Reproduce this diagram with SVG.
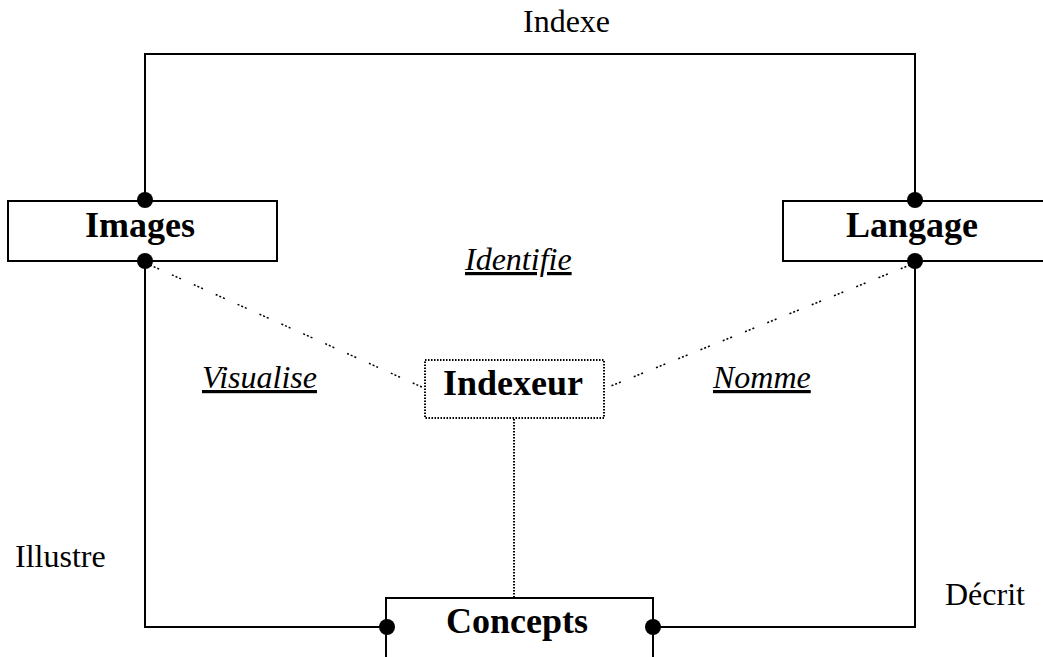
<svg xmlns="http://www.w3.org/2000/svg" width="1043" height="657" viewBox="0 0 1043 657">
<style>
.box{fill:#fff;stroke:#000;stroke-width:2}
.dbox{fill:#fff;stroke:#000;stroke-width:2;stroke-dasharray:1.5 1.5}
.ln{fill:none;stroke:#000;stroke-width:2}
.dl{fill:none;stroke:#000;stroke-width:1.5;stroke-dasharray:2 2 2 2 2 14}
.vl{fill:none;stroke:#000;stroke-width:2;stroke-dasharray:1.5 1.5}
.dot{fill:#000}
.nt{font-family:"Liberation Serif","Times New Roman",serif;font-size:36px;font-weight:bold;text-anchor:middle}
.lb{font-family:"Liberation Serif","Times New Roman",serif;font-size:32px}
.it{font-family:"Liberation Serif","Times New Roman",serif;font-size:32px;font-style:italic;text-decoration:underline}
</style>
<rect width="1043" height="657" fill="#fff"/>
<g id="connectors">
<path class="ln" d="M145 200 V54 H915 V200"/>
<path class="ln" d="M145 261 V627 H387"/>
<path class="ln" d="M915 261 V627 H653"/>
<path class="dl" d="M150 265 L424 388"/>
<path class="dl" d="M910 265 L606 388"/>
<path class="vl" d="M514 419 V597"/>
</g>
<g id="node-images">
<rect class="box" x="8" y="201" width="269" height="60"/>
<text class="nt" x="140" y="237">Images</text>
</g>
<g id="node-langage">
<rect class="box" x="783" y="201" width="270" height="60"/>
<text class="nt" x="912" y="237">Langage</text>
</g>
<g id="node-indexeur">
<rect class="dbox" x="425" y="360" width="179" height="58"/>
<text class="nt" x="513" y="395">Indexeur</text>
</g>
<g id="node-concepts">
<rect class="box" x="386" y="598" width="267" height="70"/>
<text class="nt" x="517" y="633">Concepts</text>
</g>
<g id="dots">
<circle class="dot" cx="145" cy="200" r="8"/>
<circle class="dot" cx="145" cy="261" r="8"/>
<circle class="dot" cx="915" cy="200" r="8"/>
<circle class="dot" cx="915" cy="261" r="8"/>
<circle class="dot" cx="387" cy="627" r="8"/>
<circle class="dot" cx="653" cy="627" r="8"/>
</g>
<g id="labels">
<text class="lb" x="523" y="32">Indexe</text>
<text class="lb" x="15" y="567">Illustre</text>
<text class="lb" x="945" y="605">Décrit</text>
<text class="it" x="465" y="270">Identifie</text>
<text class="it" x="202" y="388">Visualise</text>
<text class="it" x="713" y="388">Nomme</text>
</g>
</svg>
